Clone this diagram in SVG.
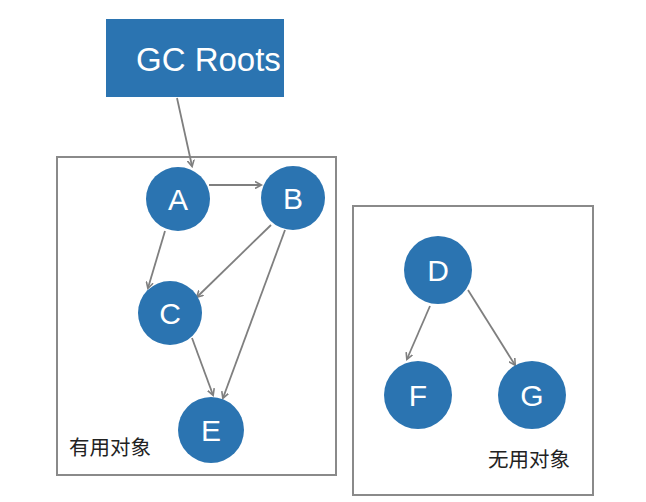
<svg xmlns="http://www.w3.org/2000/svg" width="646" height="502" viewBox="0 0 646 502">
<style>
.node{fill:#2b74b1;}
.nl{fill:#fff;font-family:"Liberation Sans",Arial,sans-serif;font-size:30px;text-anchor:middle;}
.box{fill:none;stroke:#8a8a8a;stroke-width:2;}
.edge{stroke:#7f7f7f;stroke-width:1.8;fill:none;marker-end:url(#ah);}
.cap{font-family:"Liberation Sans","Noto Sans CJK SC",sans-serif;font-size:20.5px;fill:#222;}
</style>
<defs>
<marker id="ah" markerWidth="8" markerHeight="8" refX="6" refY="4" orient="auto" markerUnits="userSpaceOnUse">
<path d="M0,0.5 L6.5,4 L0,7.5" fill="none" stroke="#7f7f7f" stroke-width="1.6"/>
</marker>
</defs>
<rect width="646" height="502" fill="#fff"/>
<g id="useful-box"><rect class="box" x="57" y="157" width="279" height="318"/><text class="cap" x="69" y="455">有用对象</text></g>
<g id="useless-box"><rect class="box" x="353" y="206" width="240" height="289"/><text class="cap" x="488" y="467">无用对象</text></g>
<g id="gcroots"><rect x="106" y="19" width="178" height="78" fill="#2b74b1"/><text x="136" y="71" fill="#fff" font-family="'Liberation Sans',Arial,sans-serif" font-size="33">GC Roots</text></g>
<g id="connectors">
<line class="edge" x1="177" y1="98" x2="192" y2="166"/>
<line class="edge" x1="209" y1="185" x2="261" y2="185"/>
<line class="edge" x1="165" y1="231" x2="148" y2="288"/>
<line class="edge" x1="271" y1="225" x2="197" y2="297"/>
<line class="edge" x1="285" y1="230" x2="223" y2="398"/>
<line class="edge" x1="192" y1="338" x2="213" y2="395"/>
<line class="edge" x1="430" y1="306" x2="407" y2="359"/>
<line class="edge" x1="468" y1="290" x2="515" y2="365"/>
</g>
<g id="A"><circle class="node" cx="178" cy="199" r="32"/><text class="nl" x="178" y="210">A</text></g>
<g id="B"><circle class="node" cx="293" cy="198" r="32"/><text class="nl" x="293" y="209">B</text></g>
<g id="C"><circle class="node" cx="170" cy="313" r="32"/><text class="nl" x="170" y="324">C</text></g>
<g id="E"><circle class="node" cx="211" cy="430" r="33"/><text class="nl" x="211" y="441">E</text></g>
<g id="D"><circle class="node" cx="438" cy="270" r="34"/><text class="nl" x="438" y="281">D</text></g>
<g id="F"><circle class="node" cx="418" cy="395" r="34"/><text class="nl" x="418" y="406">F</text></g>
<g id="G"><circle class="node" cx="532" cy="395" r="34"/><text class="nl" x="532" y="406">G</text></g>
</svg>
